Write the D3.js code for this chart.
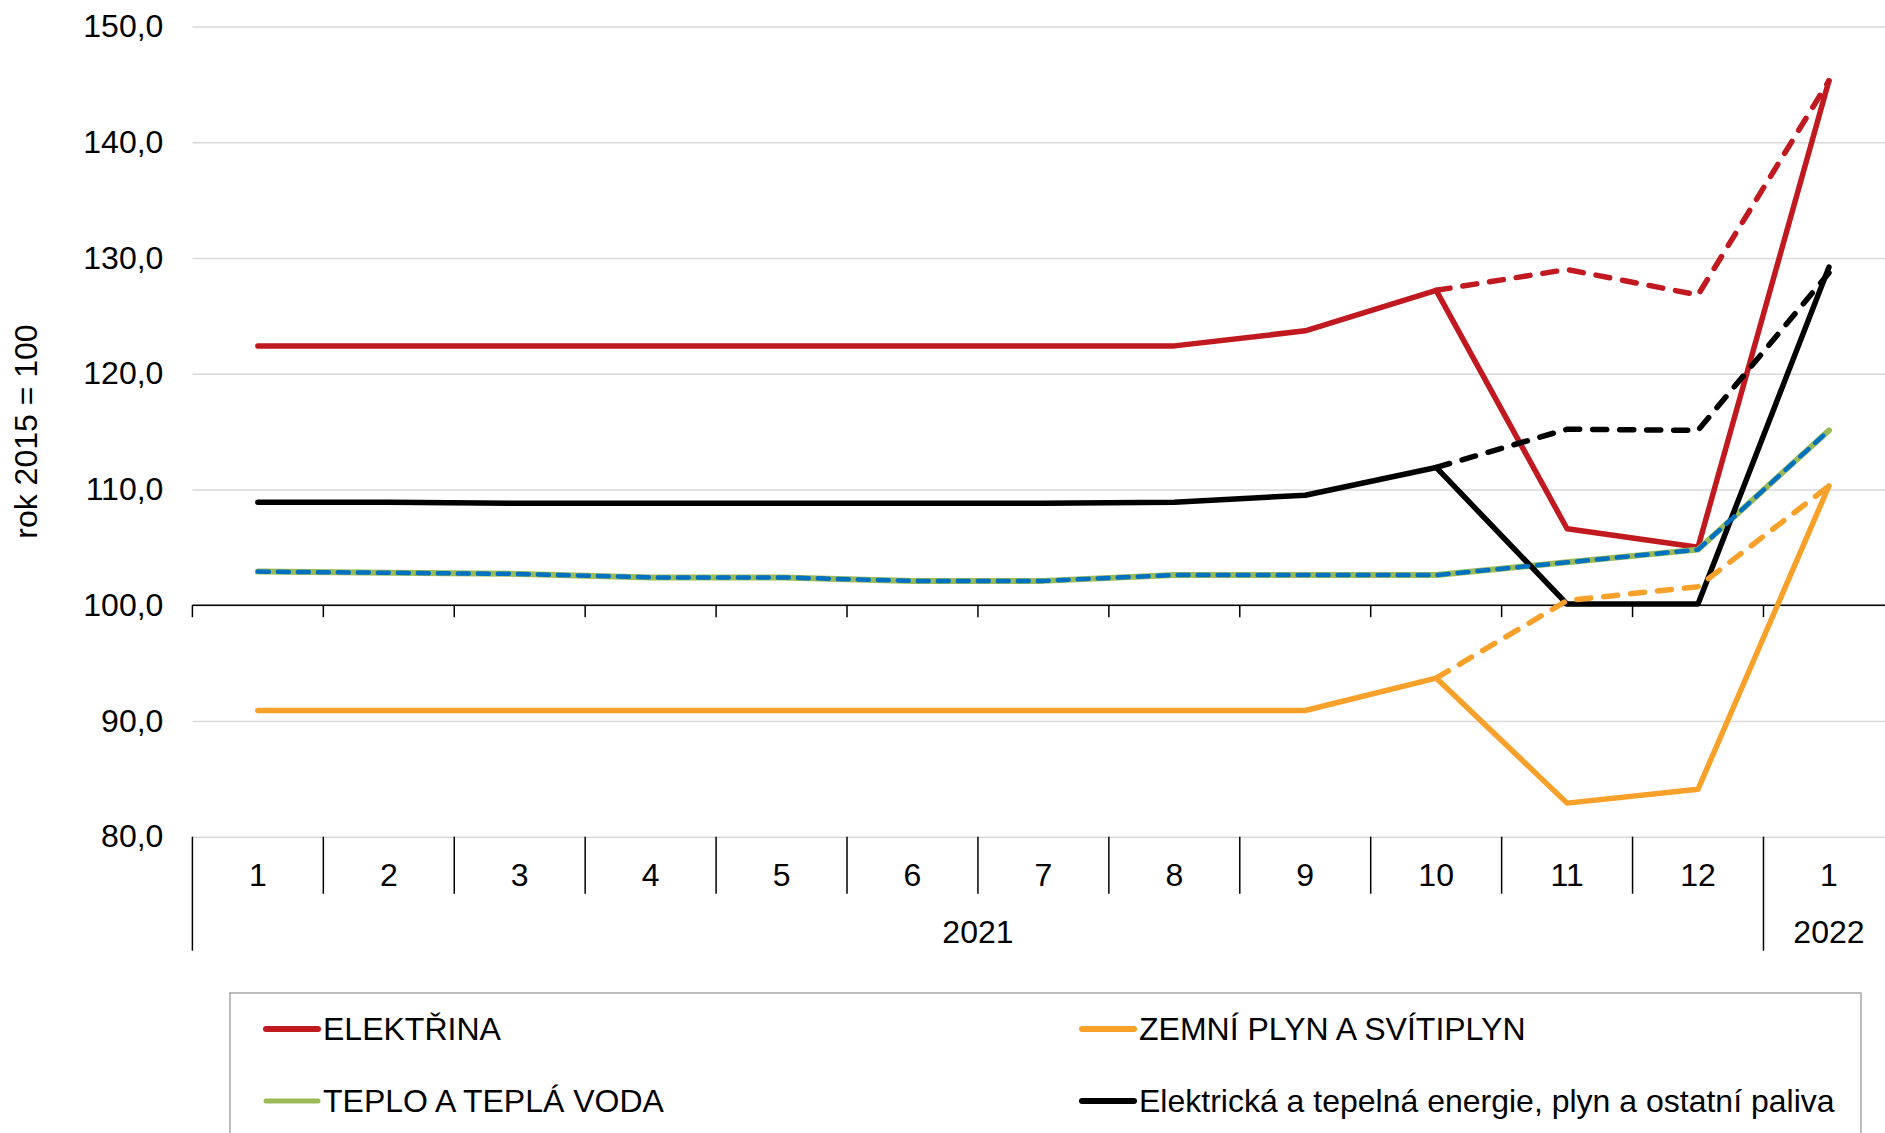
<!DOCTYPE html>
<html>
<head>
<meta charset="utf-8">
<script src="https://cdn.jsdelivr.net/npm/d3@7"></script>
<style>
  body { margin: 0; background: #fff; }
  svg { display: block; font-family: "Liberation Sans", Arial, sans-serif; }
</style>
</head>
<body>
<div id="chart"></div>
<script>
// categories (months) and year groups
var months = ["1", "2", "3", "4", "5", "6", "7", "8", "9", "10", "11", "12", "1"];
var years = [
  { label: "2021", first: 0, last: 11 },
  { label: "2022", first: 12, last: 12 }
];
var yTicks = [80, 90, 100, 110, 120, 130, 140, 150];

// solid series, all 13 months
var elektrina = [122.4, 122.4, 122.4, 122.4, 122.4, 122.4, 122.4, 122.4, 123.7, 127.2, 106.6, 105.0, 145.3];
var plyn = [90.9, 90.9, 90.9, 90.9, 90.9, 90.9, 90.9, 90.9, 90.9, 93.7, 82.9, 84.1, 110.3];
var teplo = [102.9, 102.8, 102.7, 102.4, 102.4, 102.1, 102.1, 102.6, 102.6, 102.6, 103.7, 104.8, 115.1];
var celkem = [108.9, 108.9, 108.8, 108.8, 108.8, 108.8, 108.8, 108.9, 109.5, 111.9, 100.1, 100.1, 129.2];

// dashed series (from month 10 on, blue one over whole range)
var elektrinaDash = [null, null, null, null, null, null, null, null, null, 127.2, 129.0, 126.8, 145.3];
var plynDash = [null, null, null, null, null, null, null, null, null, 93.7, 100.4, 101.6, 110.3];
var teploDash = [102.9, 102.8, 102.7, 102.4, 102.4, 102.1, 102.1, 102.6, 102.6, 102.6, 103.7, 104.8, 115.1];
var celkemDash = [null, null, null, null, null, null, null, null, null, 111.9, 115.2, 115.1, 128.7];

var legendNames = ["ELEKTŘINA", "ZEMNÍ PLYN A SVÍTIPLYN", "TEPLO A TEPLÁ VODA", "Elektrická a tepelná energie, plyn a ostatní paliva"];

// svg dims
var svgWidth = 1885;
var svgHeight = 1133;

var margin = { top: 26.4, left: 192.4 };
var cWidth = 1702;
var cHeight = 810.3;
var fontSize = 32;

var svg = d3.select("#chart")
  .append("svg")
  .attr("width", svgWidth)
  .attr("height", svgHeight);

var chartGroup = svg.append("g")
  .attr("transform", `translate(${margin.left}, ${margin.top})`);

var xBand = d3.scaleBand()
  .domain(d3.range(months.length))
  .range([0, cWidth])
  .padding(0);

var yScale = d3.scaleLinear()
  .domain([80, 150])
  .range([cHeight, 0]);

var fmt = d3.formatLocale({ decimal: ",", thousands: " ", grouping: [3], currency: ["", ""] }).format(".1f");

// gridlines + y labels
var leftAxis = d3.axisLeft(yScale)
  .tickValues(yTicks)
  .tickSize(-cWidth)
  .tickPadding(29)
  .tickFormat(fmt);

var yAxisG = chartGroup.append("g").call(leftAxis);
yAxisG.select(".domain").remove();
yAxisG.selectAll("line")
  .attr("stroke", "#d9d9d9")
  .attr("stroke-width", 1.5);
yAxisG.selectAll("text")
  .attr("font-size", fontSize)
  .attr("fill", "#000")
  .attr("font-family", "Liberation Sans, Arial, sans-serif");

// y title
svg.append("text")
  .attr("transform", `translate(37, ${margin.top + cHeight / 2}) rotate(-90)`)
  .attr("text-anchor", "middle")
  .attr("font-size", fontSize)
  .text("rok 2015 = 100");

// category axis line at 100 with small ticks
var y100 = yScale(100);
chartGroup.append("line")
  .attr("x1", 0).attr("x2", cWidth)
  .attr("y1", y100).attr("y2", y100)
  .attr("stroke", "#000").attr("stroke-width", 1.5);

chartGroup.selectAll(".tick100")
  .data(d3.range(months.length + 1))
  .enter()
  .append("line")
  .attr("x1", i => i * xBand.bandwidth())
  .attr("x2", i => i * xBand.bandwidth())
  .attr("y1", y100)
  .attr("y2", y100 + 12)
  .attr("stroke", "#000")
  .attr("stroke-width", 1.5);

// multi-level labels below the plot
var labelTop = cHeight;
chartGroup.selectAll(".sep")
  .data(d3.range(months.length + 1))
  .enter()
  .append("line")
  .attr("x1", i => i * xBand.bandwidth())
  .attr("x2", i => i * xBand.bandwidth())
  .attr("y1", labelTop)
  .attr("y2", i => (i === 0 || i === 12 || i === 13) ? labelTop + 114 : labelTop + 57)
  .attr("stroke", "#000")
  .attr("stroke-width", 1.5);

chartGroup.selectAll(".mlabel")
  .data(months)
  .enter()
  .append("text")
  .attr("x", (d, i) => xBand(i) + xBand.bandwidth() / 2)
  .attr("y", labelTop + 49)
  .attr("text-anchor", "middle")
  .attr("font-size", fontSize)
  .text(d => d);

chartGroup.selectAll(".ylabel")
  .data(years)
  .enter()
  .append("text")
  .attr("x", d => (xBand(d.first) + xBand(d.last) + xBand.bandwidth()) / 2)
  .attr("y", labelTop + 106)
  .attr("text-anchor", "middle")
  .attr("font-size", fontSize)
  .text(d => d.label);

// lines
var line = d3.line()
  .defined(d => d != null)
  .x((d, i) => xBand(i) + xBand.bandwidth() / 2)
  .y(d => yScale(d));

var solidSeries = [
  { values: elektrina, color: "#c0191f", width: 5.5, legendWidth: 6 },
  { values: plyn, color: "#f7a12a", width: 5.5, legendWidth: 6 },
  { values: teplo, color: "#9bbb59", width: 6, legendWidth: 5 },
  { values: celkem, color: "#000000", width: 5.5, legendWidth: 6 }
];

var dashSeries = [
  { values: elektrinaDash, color: "#c0191f", width: 5.5, dash: "14,13" },
  { values: plynDash, color: "#f7a12a", width: 5.5, dash: "14,13" },
  { values: teploDash, color: "#0070c0", width: 4.5, dash: "11,9" },
  { values: celkemDash, color: "#000000", width: 5.5, dash: "14,13" }
];

chartGroup.selectAll(".solid")
  .data(solidSeries)
  .enter()
  .append("path")
  .attr("fill", "none")
  .attr("stroke", d => d.color)
  .attr("stroke-width", d => d.width)
  .attr("stroke-linejoin", "round")
  .attr("stroke-linecap", "round")
  .attr("d", d => line(d.values));

chartGroup.selectAll(".dash")
  .data(dashSeries)
  .enter()
  .append("path")
  .attr("fill", "none")
  .attr("stroke", d => d.color)
  .attr("stroke-width", d => d.width)
  .attr("stroke-dasharray", d => d.dash)
  .attr("stroke-linejoin", "round")
  .attr("stroke-linecap", "round")
  .attr("d", d => line(d.values));

// legend
var legend = svg.append("g");
legend.append("rect")
  .attr("x", 230)
  .attr("y", 993)
  .attr("width", 1631)
  .attr("height", 200)
  .attr("fill", "none")
  .attr("stroke", "#a6a6a6")
  .attr("stroke-width", 1.5);

var legendPos = [
  { x: 264, y: 1029 },
  { x: 1080, y: 1029 },
  { x: 264, y: 1101 },
  { x: 1080, y: 1101 }
];

legendNames.forEach((name, i) => {
  var p = legendPos[i];
  legend.append("line")
    .attr("x1", p.x + 2).attr("x2", p.x + 54)
    .attr("y1", p.y).attr("y2", p.y)
    .attr("stroke", solidSeries[i].color)
    .attr("stroke-width", solidSeries[i].legendWidth)
    .attr("stroke-linecap", "round");
  legend.append("text")
    .attr("x", p.x + 59)
    .attr("y", p.y)
    .attr("dy", "0.35em")
    .attr("font-size", fontSize)
    .text(name);
});
</script>
</body>
</html>
